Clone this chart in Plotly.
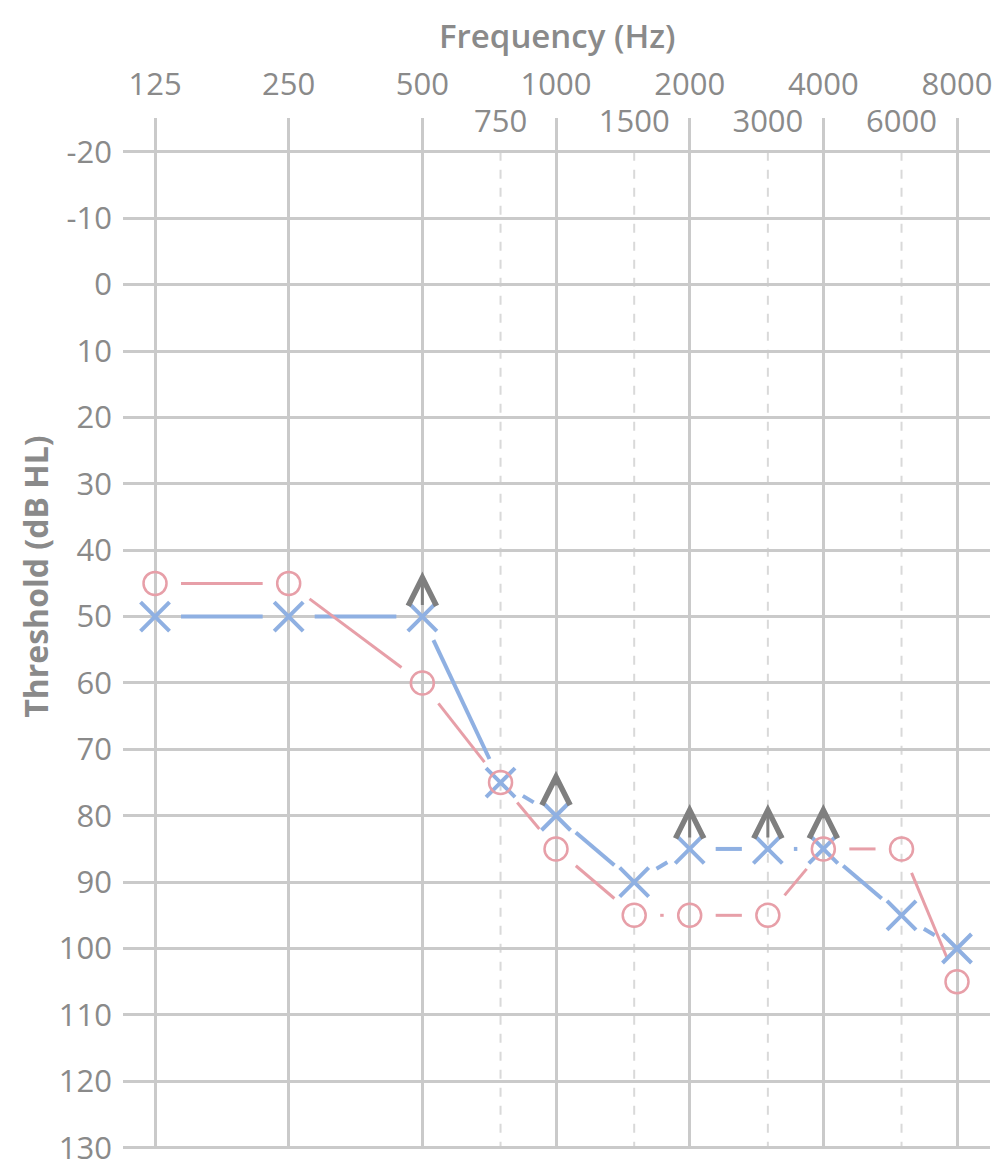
import numpy as np
import plotly.graph_objects as go

# ---------------- data ----------------
freqs = [125, 250, 500, 750, 1000, 1500, 2000, 3000, 4000, 6000, 8000]
right_ear = [45, 45, 60, 75, 85, 95, 95, 95, 85, 85, 105]   # red circles
left_ear = [50, 50, 50, 75, 80, 90, 85, 85, 85, 95, 100]    # blue crosses

octave_ticks = [125, 250, 500, 1000, 2000, 4000, 8000]
octave_labels = ["125", "250", "500", "1000", "2000", "4000", "8000"]
mid_ticks = [750, 1500, 3000, 6000]
mid_labels = ["750", "1500", "3000", "6000"]
db_ticks = list(range(-20, 131, 10))
db_labels = [str(v) for v in db_ticks]

arrow_freqs = [500, 1000, 2000, 3000, 4000]
arrow_levels = [50, 80, 85, 85, 85]
arrow_stem = [True, False, True, True, False]

# ---------------- layout geometry ----------------
W, H = 1004, 1169
ML, MR, MT, MB = 123, 14, 118, 20
PW, PH = W - ML - MR, H - MT - MB
XR = [2.0248, 3.9774]          # log10 range
YR = [130.2, -25.1]            # reversed
MID_TOP = (YR[0] - db_ticks[0]) / (YR[0] - YR[1])

RED = "#e79fa8"
BLUE = "#8fb0e2"
GRID = "#cacaca"
TXT = "#8a8a8a"
FONT = "Open Sans"


def trimmed_segments(xs, ys, gap):
    """Segments between consecutive points, shortened by `gap` px at each end."""
    lx = np.log10(np.asarray(xs, float))
    yv = np.asarray(ys, float)
    px = (lx - XR[0]) / (XR[1] - XR[0]) * PW
    py = (yv - YR[1]) / (YR[0] - YR[1]) * PH
    sx, sy = [], []
    for i in range(len(xs) - 1):
        L = np.hypot(px[i + 1] - px[i], py[i + 1] - py[i])
        t = gap / L
        if 2 * t >= 1:
            continue
        for tt in (t, 1 - t):
            sx.append(10 ** (lx[i] + tt * (lx[i + 1] - lx[i])))
            sy.append(yv[i] + tt * (yv[i + 1] - yv[i]))
        sx.append(None)
        sy.append(None)
    return sx, sy


fig = go.Figure()

bx, by = trimmed_segments(freqs, left_ear, 26)
fig.add_trace(go.Scatter(x=bx, y=by, mode="lines", line=dict(color=BLUE, width=4),
                         showlegend=False, hoverinfo="skip"))
rx, ry = trimmed_segments(freqs, right_ear, 26)
fig.add_trace(go.Scatter(x=rx, y=ry, mode="lines", line=dict(color=RED, width=3),
                         showlegend=False, hoverinfo="skip"))

fig.add_trace(go.Scatter(x=freqs, y=left_ear, mode="markers", name="Left",
                         marker=dict(symbol="x-thin-open", size=29, color=BLUE,
                                     line=dict(color=BLUE, width=4)),
                         showlegend=False))
fig.add_trace(go.Scatter(x=freqs, y=right_ear, mode="markers", name="Right",
                         marker=dict(symbol="circle-open", size=23, color=RED,
                                     line=dict(color=RED, width=2.5)),
                         showlegend=False))

# dummy trace to realise the secondary (inter-octave) label axis
fig.add_trace(go.Scatter(x=mid_ticks, y=[None] * len(mid_ticks), xaxis="x2", yaxis="y",
                         showlegend=False, hoverinfo="skip"))

# dashed inter-octave grid lines (only inside the dB range)
for f in mid_ticks:
    fig.add_shape(type="line", xref="x", yref="y", x0=f, x1=f,
                  y0=db_ticks[0], y1=db_ticks[-1], layer="below",
                  line=dict(color="#d9d9d9", width=2, dash="dash"))

annotations = []
for f, v, stem in zip(arrow_freqs, arrow_levels, arrow_stem):
    if stem:
        aw, asz, ay = 3, 1.85, 35
    else:
        aw, asz, ay = 0.5, 11.1, 17
    annotations.append(dict(
        x=np.log10(f), y=v, xref="x", yref="y", text="", showarrow=True,
        arrowhead=5, arrowsize=asz, arrowwidth=aw, arrowcolor="#7f7f7f",
        ax=0, ay=ay, yshift=45, font=dict(size=1)))

annotations.append(dict(text="Frequency (Hz)", xref="paper", yref="paper", x=0.5, y=1,
                        xanchor="center", yanchor="middle", yshift=83, showarrow=False,
                        font=dict(family=FONT, size=33, color=TXT, weight=600)))
annotations.append(dict(text="Threshold (dB HL)", xref="paper", yref="paper", x=0, y=0.555,
                        xanchor="center", yanchor="middle", xshift=-87, textangle=-90,
                        showarrow=False,
                        font=dict(family=FONT, size=32, color=TXT, weight=700)))

fig.update_layout(
    width=W, height=H,
    margin=dict(l=ML, r=MR, t=MT, b=MB, autoexpand=False),
    paper_bgcolor="white", plot_bgcolor="white",
    font=dict(family=FONT, color=TXT, size=31),
    xaxis=dict(type="log", range=XR, side="top", tickvals=octave_ticks, ticktext=octave_labels,
               showgrid=True, gridcolor=GRID, gridwidth=3, zeroline=False, showline=False,
               ticks="", ticklabelstandoff=16, automargin=False,
               tickfont=dict(size=31, color=TXT)),
    xaxis2=dict(type="log", range=XR, side="top", overlaying="x", anchor="free",
                position=MID_TOP, tickvals=mid_ticks, ticktext=mid_labels,
                showgrid=False, zeroline=False, showline=False, ticks="", automargin=False,
                ticklabelstandoff=14, tickfont=dict(size=31, color=TXT)),
    yaxis=dict(range=YR, tickvals=db_ticks, ticktext=db_labels, showgrid=True,
               gridcolor=GRID, gridwidth=3, zeroline=False, showline=False, ticks="",
               ticklabelstandoff=10, ticklabeloverflow="allow", automargin=False,
               tickfont=dict(size=31, color=TXT)),
    annotations=annotations,
)

fig.write_html("out.html")
